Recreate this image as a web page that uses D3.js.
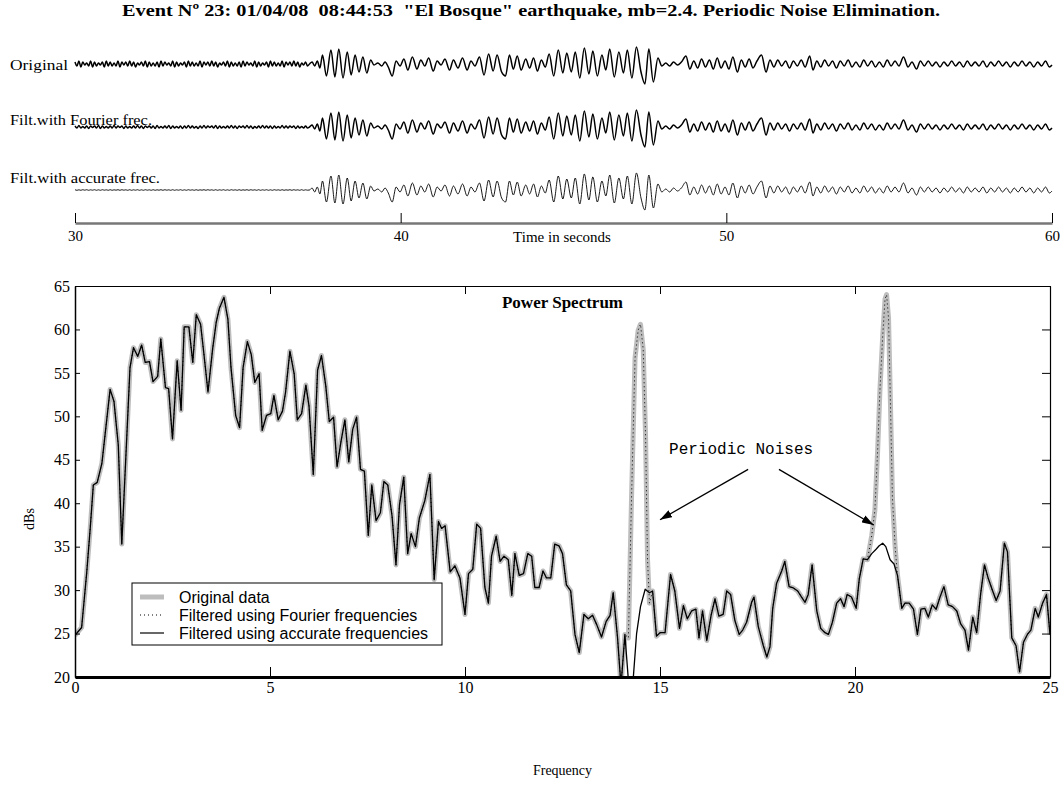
<!DOCTYPE html>
<html>
<head>
<meta charset="utf-8">
<script src="https://cdn.jsdelivr.net/npm/d3@7"></script>
<style>
  body { margin: 0; background: #fff; }
  svg text { font-family: "Liberation Serif", "Times New Roman", serif; fill: #000; }
  .legend text { font-family: "Liberation Sans", Arial, sans-serif; }
  .note { font-family: "Liberation Mono", "Courier New", monospace; }
</style>
</head>
<body>
<div id="chart"></div>
<script>
// seismogram + power spectrum, event 23 (El Bosque)

const TITLE = 'Event N\u00ba 23: 01/04/08  08:44:53  "El Bosque" earthquake, mb=2.4. Periodic Noise Elimination.';
const traceNames = ["Original", "Filt.with Fourier frec.", "Filt.with accurate frec."];
const timeTicks = [30, 40, 50, 60];
const freqTicks = [0, 5, 10, 15, 20, 25];
const dbTicks = [20, 25, 30, 35, 40, 45, 50, 55, 60, 65];
const legendLabels = ["Original data", "Filtered using Fourier frequencies", "Filtered using accurate frequencies"];

// pre-event noise, one value every noiseStep seconds from t=30 (px-ish units, up = +)
const noiseStep = 0.06;
const originalNoise = [2,-2,3,-3,2,-1,1,-2,3,-3,2,-2,1,-1,2,-3,3,-2,2,-2,
  1,-2,3,-3,2,-1,2,-2,3,-2,2,-3,1,-1,2,-2,3,-3,2,-2,
  1,-2,2,-3,3,-2,2,-1,1,-2,3,-3,2,-2,1,-1,2,-3,3,-2,
  2,-2,1,-2,3,-3,2,-1,2,-2,3,-2,2,-3,1,-1,2,-2,3,-3,
  2,-2,1,-2,2,-3,3,-2,2,-1,1,-2,3,-3,2,-2,1,-1,2,-3,
  3,-2,2,-2,1,-2,3,-3,2,-1,2,-2,3,-2,2,-3,1,-1,2,-2];
const fourierNoise = [1,-1,1.5,-1,0.5,-1,1,-1.5,1,-0.5,1,-1,1.5,-1.5,1,-1,0.5,-1,1,-1,
  1.5,-1,1,-0.5,1,-1.5,1,-1,0.5,-1,1,-1,1.5,-1,1,-1.5,1,-0.5,1,-1,
  1,-1.5,1.5,-1,0.5,-1,1,-1,1.5,-1.5,1,-1,0.5,-1,1,-1.5,1,-1,1.5,-1,
  1,-1,0.5,-1.5,1,-1,1.5,-1,1,-0.5,1,-1,1.5,-1.5,1,-1,0.5,-1,1,-1,
  1.5,-1,1,-1.5,1,-0.5,1,-1,1.5,-1,1,-1.5,0.5,-1,1,-1,1.5,-1,1,-1,
  1,-1.5,1,-1,0.5,-1,1.5,-1,1,-1,1,-0.5,1,-1.5,1,-1,0.5,-1,1,-1];
const accurateNoise = [0.3,-0.3,0.2,-0.3,0.3,-0.2,0.3,-0.3,0.2,-0.2,0.3,-0.3,0.2,-0.3,0.3,-0.2,0.2,-0.3,0.3,-0.3,
  0.2,-0.2,0.3,-0.3,0.3,-0.2,0.2,-0.3,0.3,-0.3,0.2,-0.2,0.3,-0.3,0.2,-0.3,0.3,-0.2,0.2,-0.3,
  0.3,-0.3,0.2,-0.2,0.3,-0.3,0.3,-0.2,0.2,-0.3,0.3,-0.3,0.2,-0.2,0.3,-0.3,0.2,-0.3,0.3,-0.2,
  0.2,-0.3,0.3,-0.3,0.2,-0.2,0.3,-0.3,0.3,-0.2,0.2,-0.3,0.3,-0.3,0.2,-0.2,0.3,-0.3,0.2,-0.3,
  0.3,-0.2,0.2,-0.3,0.3,-0.3,0.2,-0.2,0.3,-0.3,0.3,-0.2,0.2,-0.3,0.3,-0.3,0.2,-0.2,0.3,-0.3,
  0.2,-0.3,0.3,-0.2,0.2,-0.3,0.3,-0.3,0.2,-0.2,0.3,-0.3,0.3,-0.2,0.2,-0.3,0.3,-0.3,0.2,-0.2];

// earthquake waveform extremes [seconds, amplitude], same in all three traces
const quakePeaks = [[37.2,0],[37.28,2],[37.36,-2],[37.44,3],[37.52,-4],[37.6,9],[37.72,-12],[37.86,14],
  [37.98,-13],[38.1,15],[38.23,-14],[38.36,12],[38.48,-11],[38.6,9],[38.72,-8],[38.84,7],[38.96,-9],
  [39.08,4],[39.18,-1],[39.3,1],[39.42,-2],[39.52,2],[39.62,-3],[39.74,-12],[39.86,3],[39.98,-2],
  [40.1,5],[40.22,-6],[40.36,7],[40.5,-5],[40.62,4],[40.74,-2],[40.86,6],[41.0,-7],[41.12,3],[41.24,-1],
  [41.36,5],[41.5,-6],[41.62,4],[41.76,-4],[41.9,6],[42.04,-6],[42.16,3],[42.28,-2],[42.42,7],[42.56,-11],
  [42.7,10],[42.84,-7],[42.96,9],[43.1,-8],[43.22,-12],[43.34,9],[43.46,-5],[43.58,8],[43.7,-6],[43.84,5],
  [43.96,-4],[44.08,6],[44.2,-7],[44.32,4],[44.44,-3],[44.56,10],[44.7,-12],[44.84,14],[44.98,-9],
  [45.1,11],[45.24,-8],[45.36,12],[45.5,-14],[45.64,16],[45.78,-10],[45.9,13],[46.04,-12],[46.18,9],
  [46.3,-6],[46.42,15],[46.56,-13],[46.7,12],[46.84,-9],[46.96,14],[47.1,-14],[47.24,17],[47.38,-8],
  [47.5,-20],[47.62,15],[47.76,-18],[47.9,6],[48.02,-2],[48.14,1],[48.26,-2],[48.38,2],[48.5,-1],
  [48.62,2],[48.76,8],[48.88,-5],[49.0,3],[49.12,-4],[49.24,5],[49.36,-3],[49.48,4],[49.6,-5],[49.72,6],
  [49.84,-4],[49.96,3],[50.08,-5],[50.2,7],[50.34,-8],[50.46,4],[50.58,-3],[50.7,5],[50.82,-4],[50.94,3],
  [51.08,9],[51.22,-8],[51.34,4],[51.46,-3],[51.58,4],[51.7,-2],[51.82,3],[51.94,-4],[52.06,3],[52.18,-2],
  [52.3,4],[52.42,-3],[52.56,8],[52.66,-6],[52.78,3],[52.9,-3],[53.02,4],[53.14,-2],[53.26,3],[53.38,-4],
  [53.5,3],[53.62,-2],[53.74,4],[53.86,-3],[53.98,2],[54.1,-3],[54.22,4],[54.34,-2],[54.46,3],[54.58,-3],
  [54.7,2],[54.82,-3],[54.94,4],[55.06,-2],[55.18,3],[55.3,-2],[55.44,7],[55.58,-3],[55.7,2],[55.84,-5],
  [55.96,3],[56.08,-2],[56.2,3],[56.32,-2],[56.44,2],[56.56,-3],[56.68,2],[56.8,-2],[56.92,3],[57.04,-2],
  [57.16,2],[57.28,-3],[57.4,3],[57.52,-2],[57.64,2],[57.76,-2],[57.88,3],[58.0,-3],[58.12,2],[58.24,-2],
  [58.36,3],[58.48,-2],[58.6,2],[58.72,-3],[58.84,2],[58.96,-2],[59.08,3],[59.2,-2],[59.32,2],[59.44,-3],
  [59.56,2],[59.68,-2],[59.8,3],[59.92,-3],[60.0,-1]];

// spectrum after filtering with accurate frequencies [Hz, dB]
const accurateSpectrum = [[0,24.8],[0.17,25.7],[0.3,32],[0.39,37.1],[0.47,42.1],[0.57,42.4],[0.69,44.6],
  [0.9,53.1],[1.0,51.7],[1.11,46.7],[1.2,35.3],[1.41,55.6],[1.5,57.9],[1.61,56.9],[1.71,58.2],[1.8,56.2],
  [1.91,56.3],[2.0,54.0],[2.12,54.6],[2.2,58.9],[2.32,53.3],[2.4,53.2],[2.5,47.4],[2.62,56.4],[2.72,50.7],
  [2.8,60.3],[2.92,60.3],[3.02,56.2],[3.11,61.7],[3.22,60.6],[3.3,57.4],[3.41,52.8],[3.53,57.8],[3.62,60.8],
  [3.7,62.4],[3.82,63.7],[3.92,61.2],[4.0,55.6],[4.12,50.1],[4.22,48.7],[4.31,55.6],[4.42,58.6],[4.52,57.1],
  [4.61,53.9],[4.72,54.9],[4.8,48.4],[4.91,50.1],[5.02,50.3],[5.1,52.4],[5.21,49.6],[5.32,50.6],[5.4,52.8],
  [5.51,57.5],[5.62,54.9],[5.7,49.6],[5.81,50.3],[5.92,53.6],[6.0,51.2],[6.11,43.3],[6.22,55.3],[6.32,57.0],
  [6.43,53.5],[6.52,49.4],[6.63,49.9],[6.72,44.2],[6.82,47.1],[6.92,49.6],[7.02,44.75],[7.12,48.5],[7.22,49.9],
  [7.32,43.9],[7.42,43.7],[7.52,36.3],[7.61,42.1],[7.72,38.0],[7.83,38.9],[7.92,42.5],[8.02,42.1],[8.13,38.5],
  [8.23,32.9],[8.32,39.8],[8.43,43.0],[8.53,34.2],[8.62,36.5],[8.73,35.0],[8.83,38.3],[8.97,40.3],[9.1,43.3],
  [9.21,31.2],[9.32,37.9],[9.4,37.1],[9.49,37.4],[9.62,32.1],[9.74,32.8],[9.87,31.4],[10.0,27.2],[10.09,31.9],
  [10.2,32.4],[10.3,37.6],[10.4,37.1],[10.51,30.3],[10.6,28.5],[10.68,33.9],[10.8,36.2],[10.9,33.3],[11.0,33.9],
  [11.11,33.5],[11.2,29.4],[11.28,34.2],[11.39,31.7],[11.5,31.9],[11.61,34.2],[11.71,33.9],[11.79,30.3],
  [11.9,30.3],[12.0,32.2],[12.09,31.4],[12.2,31.4],[12.3,35.3],[12.41,35.1],[12.5,34.2],[12.6,30.6],[12.71,29.9],
  [12.82,24.9],[12.93,22.8],[13.05,27.2],[13.16,26.7],[13.27,27.1],[13.38,26.0],[13.5,24.6],[13.62,26.4],
  [13.72,27.1],[13.8,29.7],[13.91,24.6],[14.0,19.0],[14.1,24.9],[14.2,19.0],[14.3,19.0],[14.4,25.0],[14.5,28.1],
  [14.62,30.1],[14.73,29.7],[14.81,29.9],[14.91,24.7],[15.0,25.1],[15.13,25.1],[15.27,31.8],[15.38,29.9],
  [15.5,25.6],[15.6,28.2],[15.7,26.7],[15.81,27.6],[15.92,27.8],[16.0,24.5],[16.09,27.6],[16.2,24.2],[16.31,27.1],
  [16.41,29.0],[16.51,27.0],[16.62,27.2],[16.71,29.9],[16.81,29.5],[16.92,26.5],[17.03,24.9],[17.12,25.4],
  [17.22,26.3],[17.35,28.6],[17.41,29.2],[17.52,25.8],[17.65,23.6],[17.74,22.3],[17.82,23.5],[17.89,27.9],
  [17.99,30.8],[18.12,32.2],[18.2,33.3],[18.31,30.4],[18.42,30.25],[18.53,29.9],[18.63,29.2],[18.72,28.6],
  [18.8,29.5],[18.9,32.9],[19.02,27.6],[19.12,25.6],[19.23,25.1],[19.32,24.9],[19.42,26.3],[19.53,28.5],
  [19.63,29.0],[19.72,28.1],[19.8,29.5],[19.91,29.2],[20.03,27.9],[20.11,31.3],[20.21,33.6],[20.32,33.5],
  [20.43,34.2],[20.54,34.7],[20.62,35.1],[20.71,35.4],[20.79,35.0],[20.9,33.5],[21.0,33.0],[21.09,31.7],
  [21.2,27.9],[21.28,28.5],[21.39,28.5],[21.5,27.8],[21.6,24.9],[21.69,27.8],[21.79,27.9],[21.88,26.9],
  [21.98,28.3],[22.08,27.8],[22.18,29.2],[22.28,30.4],[22.39,28.3],[22.5,28.1],[22.61,27.6],[22.71,26.1],
  [22.82,25.4],[22.91,23.1],[23.02,26.9],[23.12,25.1],[23.22,29.5],[23.32,32.9],[23.42,31.3],[23.53,29.9],
  [23.62,28.8],[23.72,29.9],[23.83,35.4],[23.91,34.4],[24.02,24.5],[24.13,23.6],[24.22,20.6],[24.32,24.0],
  [24.42,24.9],[24.51,25.4],[24.62,27.9],[24.7,26.9],[24.81,28.5],[24.91,29.5],[25.0,24.9]];

// the two periodic noise peaks still present in the original (and Fourier-filtered) data
const noisePeak1 = [[14.19,24.5],[14.27,40.6],[14.36,56.7],[14.44,59.9],[14.5,60.6],[14.57,57.7],
  [14.63,47.7],[14.68,33.5],[14.73,28.5]];
const noisePeak2 = [[20.43,36.3],[20.51,39.2],[20.58,46.0],[20.64,53.1],[20.71,59.2],[20.77,63.5],
  [20.81,64.0],[20.86,61.3],[20.91,51.3],[20.96,40.6],[21.03,34.9]];
const noiseWindows = [[14.15, 14.76], [20.4, 21.05]];

const noteText = "Periodic Noises";
const notePos = [17.08, 45.7];
const noteArrows = [[17.26, 43.9, 15.0, 38.1], [18.05, 43.9, 20.48, 37.5]];

(function () {
  "use strict";

  const SERIF = '"Liberation Serif", "Times New Roman", serif';
  const W = 1061, H = 794;
  const svg = d3.select("#chart").append("svg").attr("width", W).attr("height", H);

  svg.append("text")
    .attr("x", 531).attr("y", 16)
    .attr("text-anchor", "middle")
    .attr("font-size", 17).attr("font-weight", "bold")
    .attr("textLength", 818).attr("lengthAdjust", "spacingAndGlyphs")
    .style("white-space", "pre")
    .text(TITLE);

  // ---------- SEISMOGRAMS ----------
  const timeX = d3.scaleLinear().domain([30, 60]).range([75, 1052]);
  const traceCenters = [64, 127, 190];
  const labelY = [70, 125, 183];
  const labelWidths = [58, 142, 150];
  const noiseSets = [originalNoise, fourierNoise, accurateNoise];
  const traceWidths = [1.5, 1.5, 0.9];

  noiseSets.forEach((noise, k) => {
    const pts = noise.map((v, i) => [30 + i * noiseStep, v]).concat(quakePeaks);
    const y = d3.scaleLinear().domain([-20, 20]).range([traceCenters[k] + 20, traceCenters[k] - 20]);
    const line = d3.line().x((d) => timeX(d[0])).y((d) => y(d[1])).curve(d3.curveMonotoneX);

    svg.append("path")
      .datum(pts)
      .attr("d", line)
      .attr("fill", "none")
      .attr("stroke", "#000")
      .attr("stroke-width", traceWidths[k]);

    svg.append("text")
      .attr("x", 10).attr("y", labelY[k])
      .attr("font-size", 15)
      .attr("textLength", labelWidths[k]).attr("lengthAdjust", "spacingAndGlyphs")
      .text(traceNames[k]);
  });

  const tAxis = svg.append("g")
    .attr("transform", "translate(0,223)")
    .call(d3.axisBottom(timeX).tickValues(timeTicks).tickSizeInner(-10).tickSizeOuter(0).tickPadding(7));
  tAxis.attr("font-family", SERIF);
  tAxis.select(".domain").attr("stroke", "#777").attr("stroke-width", 2.5);
  tAxis.selectAll(".tick line").attr("stroke", "#000");
  tAxis.selectAll("text").attr("font-size", 15);

  svg.append("text")
    .attr("x", 562).attr("y", 242)
    .attr("text-anchor", "middle")
    .attr("font-size", 15)
    .text("Time in seconds");

  // ---------- POWER SPECTRUM ----------
  const L = 75, R = 1050, T = 286, B = 677;
  const fx = d3.scaleLinear().domain([0, 25]).range([L, R]);
  const fy = d3.scaleLinear().domain([20, 65]).range([B, T]);

  const inWindow = (d) => noiseWindows.some((w) => d[0] > w[0] && d[0] < w[1]);
  const originalSpectrum = accurateSpectrum.filter((d) => !inWindow(d))
    .concat(noisePeak1, noisePeak2)
    .sort((a, b) => a[0] - b[0]);
  const fourierSpectrum = originalSpectrum; // Fourier filtering leaves the peaks untouched

  const defs = svg.append("defs");
  defs.append("clipPath").attr("id", "plot-clip")
    .append("rect").attr("x", L).attr("y", T).attr("width", R - L).attr("height", B - T);

  const specLine = d3.line().x((d) => fx(d[0])).y((d) => fy(d[1]));
  const plot = svg.append("g").attr("clip-path", "url(#plot-clip)");

  plot.append("path").datum(originalSpectrum).attr("d", specLine)
    .attr("fill", "none").attr("stroke", "#bdbdbd").attr("stroke-width", 5)
    .attr("stroke-linejoin", "round");
  plot.append("path").datum(fourierSpectrum).attr("d", specLine)
    .attr("fill", "none").attr("stroke", "#000").attr("stroke-width", 1)
    .attr("stroke-dasharray", "1,3");
  plot.append("path").datum(accurateSpectrum).attr("d", specLine)
    .attr("fill", "none").attr("stroke", "#000").attr("stroke-width", 1.3)
    .attr("stroke-linejoin", "round");

  const bottomAxis = svg.append("g").attr("transform", `translate(0,${B})`)
    .call(d3.axisBottom(fx).tickValues(freqTicks).tickSizeInner(-10).tickSizeOuter(0).tickPadding(5));
  bottomAxis.attr("font-family", SERIF);
  bottomAxis.select(".domain").attr("stroke-width", 3);
  bottomAxis.selectAll("text").attr("font-size", 16);

  const topAxis = svg.append("g").attr("transform", `translate(0,${T})`)
    .call(d3.axisTop(fx).tickValues(freqTicks).tickSizeInner(-8).tickSizeOuter(0).tickFormat(""));
  topAxis.select(".domain").attr("stroke-width", 1.2);

  const leftAxis = svg.append("g").attr("transform", `translate(${L},0)`)
    .call(d3.axisLeft(fy).tickValues(dbTicks).tickSizeInner(-5).tickSizeOuter(0).tickPadding(5));
  leftAxis.attr("font-family", SERIF);
  leftAxis.select(".domain").attr("stroke-width", 1.5);
  leftAxis.selectAll("text").attr("font-size", 16);

  const rightAxis = svg.append("g").attr("transform", `translate(${R},0)`)
    .call(d3.axisRight(fy).tickValues(dbTicks).tickSizeInner(-8).tickSizeOuter(0).tickFormat(""));
  rightAxis.select(".domain").attr("stroke-width", 1.2);

  svg.append("text")
    .attr("x", (L + R) / 2).attr("y", 308)
    .attr("text-anchor", "middle")
    .attr("font-size", 17).attr("font-weight", "bold")
    .text("Power Spectrum");

  svg.append("text")
    .attr("transform", "translate(34,519) rotate(-90)")
    .attr("text-anchor", "middle")
    .attr("font-size", 14)
    .text("dBs");

  svg.append("text")
    .attr("x", (L + R) / 2).attr("y", 775)
    .attr("text-anchor", "middle")
    .attr("font-size", 14)
    .text("Frequency");

  // annotation
  defs.append("marker")
    .attr("id", "arrow-head")
    .attr("viewBox", "0 0 12 8")
    .attr("refX", 12).attr("refY", 4)
    .attr("markerWidth", 12).attr("markerHeight", 8)
    .attr("markerUnits", "userSpaceOnUse")
    .attr("orient", "auto")
    .append("path").attr("d", "M0,0L12,4L0,8Z").attr("fill", "#000");

  svg.append("text")
    .attr("class", "note")
    .attr("x", fx(notePos[0])).attr("y", fy(notePos[1]))
    .attr("text-anchor", "middle")
    .attr("font-size", 16)
    .text(noteText);

  svg.selectAll(".note-arrow")
    .data(noteArrows)
    .join("line")
    .attr("class", "note-arrow")
    .attr("x1", (d) => fx(d[0])).attr("y1", (d) => fy(d[1]))
    .attr("x2", (d) => fx(d[2])).attr("y2", (d) => fy(d[3]))
    .attr("stroke", "#000").attr("stroke-width", 1.3)
    .attr("marker-end", "url(#arrow-head)");

  // legend
  const legend = svg.append("g").attr("class", "legend");
  legend.append("rect")
    .attr("x", 132).attr("y", 583).attr("width", 310).attr("height", 62)
    .attr("fill", "#fff").attr("stroke", "#000").attr("stroke-width", 1);

  const legendStyles = [
    { stroke: "#bdbdbd", width: 5, dash: null },
    { stroke: "#000", width: 1, dash: "1,3" },
    { stroke: "#000", width: 1.2, dash: null },
  ];
  const legendRow = legend.selectAll(".legend-item")
    .data(legendLabels)
    .join("g")
    .attr("class", "legend-item")
    .attr("transform", (d, i) => `translate(140,${597 + i * 18})`);
  legendRow.append("line")
    .attr("x1", 0).attr("x2", 24).attr("y1", 0).attr("y2", 0)
    .attr("stroke", (d, i) => legendStyles[i].stroke)
    .attr("stroke-width", (d, i) => legendStyles[i].width)
    .attr("stroke-dasharray", (d, i) => legendStyles[i].dash);
  legendRow.append("text")
    .attr("x", 39).attr("y", 5.5)
    .attr("font-size", 16)
    .text((d) => d);
})();
</script>
</body>
</html>
